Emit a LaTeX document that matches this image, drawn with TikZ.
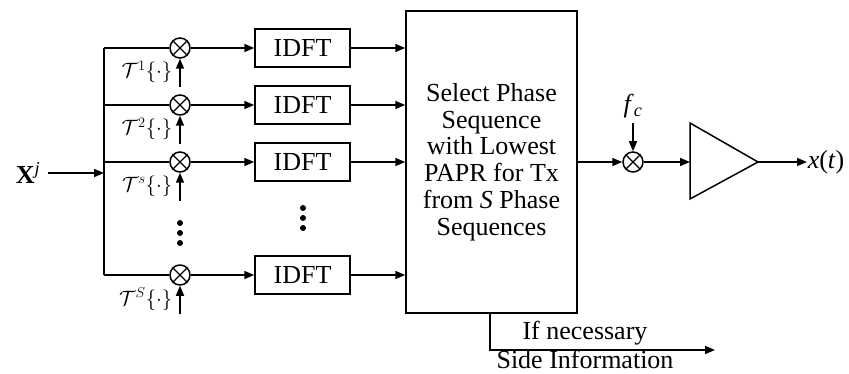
\documentclass[tikz,border=0pt]{standalone}
\usepackage{fontspec}
\setmainfont{Liberation Serif}
\usetikzlibrary{arrows.meta,shapes.geometric}
\begin{document}
\begin{tikzpicture}[x=1pt,y=-1pt,line width=1.5pt,
  mixer/.style={circle,draw,minimum size=20pt,inner sep=0pt},
  idft/.style={draw,minimum width=95pt,minimum height=38pt,inner sep=0pt,font=\fontsize{26}{27}\selectfont},
  arr/.style={-{Triangle[length=10pt,width=8pt]}},
  lbl/.style={font=\fontsize{26}{26.7}\selectfont,inner sep=0pt},
  tlbl/.style={font=\fontsize{22}{24}\selectfont,inner sep=0pt,anchor=east},
  dotc/.style={circle,fill,inner sep=0pt,minimum size=6pt}]
\useasboundingbox (0,0) rectangle (849,374);

% input
\node[lbl,anchor=east] (xj) at (41,173) {\textbf{X}\textsuperscript{\textit{j}}};
\coordinate (bin) at (104,173);
\coordinate (btop) at (104,48);
\coordinate (bbot) at (104,275);
\draw[arr] ([xshift=7pt]xj.east) -- (bin);
\draw (btop) -- (bbot);

% mixers
\node[mixer] (m1) at (180,48) {};
\node[mixer] (m2) at (180,105) {};
\node[mixer] (m3) at (180,162) {};
\node[mixer] (m4) at (180,275) {};
\node[mixer] (m5) at (633,162) {};
\foreach \m in {m1,m2,m3,m4,m5}{\draw[line width=1.3pt] (\m.45) -- (\m.225) (\m.135) -- (\m.-45);}

% bus branches
\draw (btop) -- (m1.west);
\draw (104,105) -- (m2.west);
\draw (104,162) -- (m3.west);
\draw (bbot) -- (m4.west);

% phase inputs
\coordinate (p1) at (180,87);
\coordinate (p2) at (180,144);
\coordinate (p3) at (180,201);
\coordinate (p4) at (180,314);
\draw[arr] (p1) -- (m1.south);
\draw[arr] (p2) -- (m2.south);
\draw[arr] (p3) -- (m3.south);
\draw[arr] (p4) -- (m4.south);
\node[tlbl] (t1) at (173,72) {$\mathcal{T}^{1}\{\cdot\}$};
\node[tlbl] (t2) at (173,129) {$\mathcal{T}^{2}\{\cdot\}$};
\node[tlbl] (t3) at (173,186) {$\mathcal{T}^{s}\{\cdot\}$};
\node[tlbl] (t4) at (173,299) {$\mathcal{T}^{S}\{\cdot\}$};

% IDFT boxes
\node[idft] (i1) at (302.5,48) {IDFT};
\node[idft] (i2) at (302.5,105) {IDFT};
\node[idft] (i3) at (302.5,162) {IDFT};
\node[idft] (i4) at (302.5,275) {IDFT};
\draw[arr] (m1.east) -- (i1.west);
\draw[arr] (m2.east) -- (i2.west);
\draw[arr] (m3.east) -- (i3.west);
\draw[arr] (m4.east) -- (i4.west);

% dots
\foreach \y in {223,233,243}{\node[dotc] at (180,\y) {};}
\foreach \y in {208,218,228}{\node[dotc] at (303,\y) {};}

% selector
\node[draw,lbl,minimum width=171pt,minimum height=302pt,align=center] (sel) at (491.5,162)
  {Select Phase\\Sequence\\with Lowest\\PAPR for Tx\\from \textit{S} Phase\\Sequences};
\draw[arr] (i1.east) -- (sel.west |- i1.east);
\draw[arr] (i2.east) -- (sel.west |- i2.east);
\draw[arr] (i3.east) -- (sel.west |- i3.east);
\draw[arr] (i4.east) -- (sel.west |- i4.east);

% side information
\coordinate (sidestart) at ([xshift=-1.5pt]sel.south);
\coordinate (sideend) at (715,350);
\draw[arr] (sidestart) |- (sideend);
\node[lbl] (ifn) at (585,333) {If necessary};
\node[lbl] (sinf) at (585,359) {Side Information};

% output chain
\draw[arr] (sel.east) -- (m5.west);
\node[lbl] (fc) at (633,106) {\textit{f}\textsubscript{\textit{c}}};
\coordinate (fcin) at (633,123);
\draw[arr] (fcin) -- (m5.north);
\coordinate (ampin) at (690,162);
\coordinate (ampout) at (758,162);
\draw (690,123) -- (ampout) -- (690,199) -- cycle;
\draw[arr] (m5.east) -- (ampin);
\node[lbl,anchor=west] (xt) at (807,162) {\textit{x}(\textit{t})};
\draw[arr] (ampout) -- (xt.west);
\end{tikzpicture}
\end{document}
